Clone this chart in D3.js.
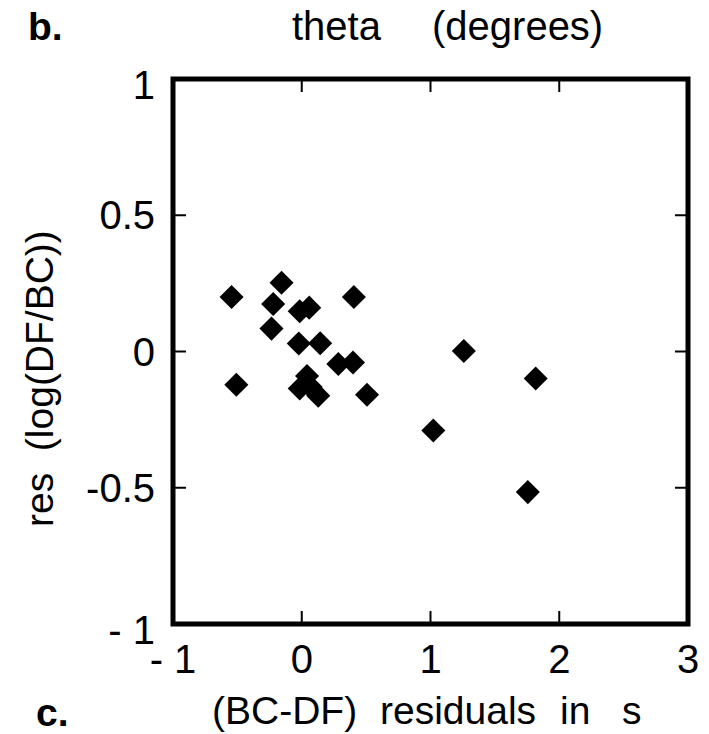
<!DOCTYPE html>
<html>
<head>
<meta charset="utf-8">
<script src="https://cdn.jsdelivr.net/npm/d3@7"></script>
<style>
  html, body { margin: 0; padding: 0; background: #fff; }
  text { font-family: "Liberation Sans", Arial, Helvetica, sans-serif; fill: #000; }
</style>
</head>
<body>
<svg id="chart" width="709" height="734"></svg>
<script>
// Data (residuals): x = (BC-DF) residuals in s, y = res (log(DF/BC))
const xValues = [-0.545, -0.157, -0.222, -0.235, -0.016, 0.058, 0.405, -0.023, 0.143, 0.284, 0.398,
                 -0.508, -0.016, 0.041, 0.128, 0.07, 0.507, 1.259, 1.817, 1.022, 1.756];
const yValues = [0.200, 0.252, 0.174, 0.084, 0.148, 0.161, 0.200, 0.029, 0.030, -0.046, -0.040,
                 -0.122, -0.136, -0.090, -0.162, -0.130, -0.159, 0.002, -0.099, -0.290, -0.516];
const xTicks = [-1, 0, 1, 2, 3];
const xTickLabels = ["- 1", "0", "1", "2", "3"];
const yTicks = [1, 0.5, 0, -0.5, -1];
const yTickLabels = ["1", "0.5", "0", "-0.5", "- 1"];

const svg = d3.select("#chart");
const x = d3.scaleLinear().domain([-1, 3]).range([173, 688]);
const y = d3.scaleLinear().domain([-1, 1]).range([624, 79]);
const FS = 39;

// Inward ticks
const tickLen = 13;
const gx = svg.append("g");
xTicks.slice(1, -1).forEach(t => {
  gx.append("line").attr("x1", x(t)).attr("x2", x(t)).attr("y1", y(1)).attr("y2", y(1) + tickLen)
    .attr("stroke", "#000").attr("stroke-width", 2);
  gx.append("line").attr("x1", x(t)).attr("x2", x(t)).attr("y1", y(-1)).attr("y2", y(-1) - tickLen)
    .attr("stroke", "#000").attr("stroke-width", 2);
});
yTicks.slice(1, -1).forEach(t => {
  gx.append("line").attr("x1", x(-1)).attr("x2", x(-1) + tickLen).attr("y1", y(t)).attr("y2", y(t))
    .attr("stroke", "#000").attr("stroke-width", 2);
  gx.append("line").attr("x1", x(3)).attr("x2", x(3) - tickLen).attr("y1", y(t)).attr("y2", y(t))
    .attr("stroke", "#000").attr("stroke-width", 2);
});

// Frame
svg.append("rect")
  .attr("x", x(-1)).attr("y", y(1))
  .attr("width", x(3) - x(-1)).attr("height", y(-1) - y(1))
  .attr("fill", "none").attr("stroke", "#000").attr("stroke-width", 5);

// Tick labels
svg.append("g").selectAll("text").data(xTicks).join("text")
  .attr("x", d => x(d)).attr("y", 673)
  .attr("text-anchor", "middle").attr("font-size", 40)
  .style("white-space", "pre")
  .text((d, i) => xTickLabels[i]);

svg.append("g").selectAll("text").data(yTicks).join("text")
  .attr("x", 155).attr("y", d => y(d) + 14 + (d === -1 ? 6 : 0) + (d === 1 ? 6 : 0))
  .attr("text-anchor", "end").attr("font-size", 40)
  .style("white-space", "pre")
  .text((d, i) => yTickLabels[i]);

// Points (diamonds)
const sq = 17;
svg.append("g").selectAll("rect").data(xValues).join("rect")
  .attr("x", -sq / 2).attr("y", -sq / 2).attr("width", sq).attr("height", sq)
  .attr("fill", "#000")
  .attr("transform", (d, i) => `translate(${x(d)},${y(yValues[i])}) rotate(45)`);

// Titles / labels
svg.append("text").attr("x", 28).attr("y", 40).attr("font-size", FS).attr("font-weight", "bold").text("b.");
svg.append("text").attr("x", 292).attr("y", 40).attr("font-size", 40).text("theta");
svg.append("text").attr("x", 432).attr("y", 40).attr("font-size", 40).text("(degrees)");

svg.append("text").attr("x", 36).attr("y", 726).attr("font-size", FS).attr("font-weight", "bold").text("c.");
svg.append("text").attr("x", 212).attr("y", 724).attr("font-size", FS).text("(BC-DF)");
svg.append("text").attr("x", 380).attr("y", 724).attr("font-size", FS).text("residuals");
svg.append("text").attr("x", 560).attr("y", 724).attr("font-size", FS).text("in");
svg.append("text").attr("x", 622).attr("y", 724).attr("font-size", FS).text("s");

svg.append("text")
  .attr("transform", "translate(53,527) rotate(-90)")
  .attr("font-size", FS).attr("text-anchor", "start")
  .style("white-space", "pre")
  .text("res  (log(DF/BC))");
</script>
</body>
</html>
